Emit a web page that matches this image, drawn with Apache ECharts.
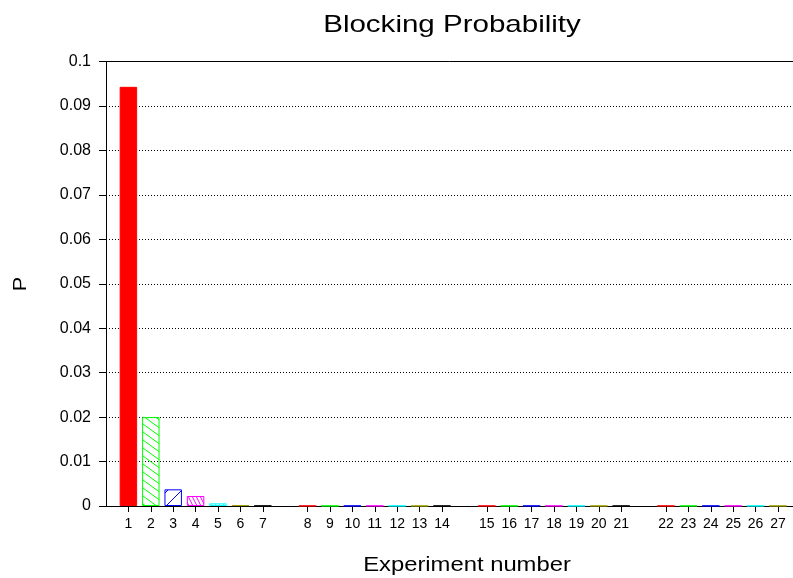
<!DOCTYPE html>
<html>
<head>
<meta charset="utf-8">
<script src="https://cdn.jsdelivr.net/npm/echarts@6/dist/echarts.min.js"></script>
<style>
  html, body { margin: 0; padding: 0; background: #fff; }
  #chart { width: 793px; height: 578px; }
</style>
</head>
<body>
<div id="chart"></div>
<script>
// Experiment labels and measured blocking probability per experiment
const experiments = ['1', '2', '3', '4', '5', '6', '7',
                     '8', '9', '10', '11', '12', '13', '14',
                     '15', '16', '17', '18', '19', '20', '21',
                     '22', '23', '24', '25', '26', '27'];
const blockingP = [0.0943, 0.0200, 0.00375, 0.00225, 0.0006, 0.0002, 0.00006,
                   0.00004, 0.00004, 0.00004, 0.00004, 0.00004, 0.00004, 0.00004,
                   0.00004, 0.00004, 0.00004, 0.00004, 0.00004, 0.00004, 0.00004,
                   0.00004, 0.00004, 0.00004, 0.00004, 0.00004, 0.00004];
// Experiments are plotted in groups of seven, with a blank slot between groups
const groupSize = 7;
const yMin = 0, yMax = 0.1, yStep = 0.01;

const FONT = 'Liberation Sans, Arial, Helvetica, sans-serif';
const palette = ['#ff0000', '#00ff00', '#0000ff', '#ff00ff', '#00ffff', '#a0a000', '#000000'];

// Hatch tile: diagonal lines with the given run (w) and rise (h)
function hatch(color, w, h, dir, cross) {
  const c = document.createElement('canvas');
  c.width = w; c.height = h;
  const ctx = c.getContext('2d');
  ctx.strokeStyle = color;
  ctx.lineWidth = 1;
  const dirs = cross ? ['back', 'fwd'] : [dir];
  dirs.forEach(d => {
    [-h, 0, h].forEach(o => {
      ctx.beginPath();
      if (d === 'back') { ctx.moveTo(-w, -h + o); ctx.lineTo(2 * w, 2 * h + o); }
      else { ctx.moveTo(-w, 2 * h + o); ctx.lineTo(2 * w, -h + o); }
      ctx.stroke();
    });
  });
  return { image: c, repeat: 'repeat' };
}

function fillFor(i) {
  const col = palette[i % palette.length];
  switch (i % 7) {
    case 0: return col;
    case 1: return hatch(col, 11, 8, 'back');
    case 2: return hatch(col, 14, 14, 'fwd');
    case 3: return hatch(col, 4, 8, 'back');
    case 4: return hatch(col, 4, 8, 'fwd');
    case 5: return hatch(col, 8, 8, 'back', true);
    default: return hatch(col, 6, 6, 'fwd', true);
  }
}

// Category slots: leading blank, groups separated by blanks, trailing blank
const categories = [''];
const barData = ['-'];
experiments.forEach((name, i) => {
  categories.push(name);
  barData.push({
    value: blockingP[i],
    itemStyle: { color: fillFor(i), borderColor: palette[i % palette.length], borderWidth: 1 }
  });
  if ((i + 1) % groupSize === 0) { categories.push(''); barData.push('-'); }
});
categories.push('');
barData.push('-');

const chart = echarts.init(document.getElementById('chart'), null, { renderer: 'canvas' });

const plotLeft = 106, plotTop = 61.5, plotBottom = 506;
const slot = 22.4;

chart.setOption({
  animation: false,
  backgroundColor: '#ffffff',
  grid: {
    left: plotLeft, top: plotTop,
    width: slot * (categories.length - 1),
    height: plotBottom - plotTop,
    containLabel: false,
    outerBoundsMode: 'none'
  },
  xAxis: [{
    type: 'category',
    data: categories,
    boundaryGap: false,
    axisLine: { lineStyle: { color: '#000', width: 1 } },
    axisTick: {
      show: true, length: 6,
      interval: (idx, val) => val !== '',
      lineStyle: { color: '#000' }
    },
    axisLabel: {
      interval: 0, margin: 11,
      color: '#000', fontSize: 14, fontFamily: FONT
    },
    splitLine: { show: false }
  }, {
    type: 'category',
    data: categories,
    boundaryGap: false,
    position: 'top',
    axisLine: { show: true, lineStyle: { color: '#000', width: 1 } },
    axisTick: { show: false },
    axisLabel: { show: false },
    splitLine: { show: false }
  }],
  yAxis: {
    type: 'value',
    min: yMin, max: yMax, interval: yStep,
    axisLine: { show: true, lineStyle: { color: '#000', width: 1 } },
    axisTick: { show: true, length: 7, lineStyle: { color: '#000' } },
    axisLabel: { margin: 15, color: '#000', fontSize: 16, fontFamily: FONT },
    splitLine: { show: true, lineStyle: { color: '#000', width: 1, type: [1, 2] } }
  },
  series: [{
    type: 'bar',
    xAxisIndex: 0,
    data: barData,
    barCategoryGap: '22%',
    z: 3
  }],
  graphic: [
    {
      type: 'text', x: 452, y: 25, scaleX: 1.23,
      style: { text: 'Blocking Probability', fontSize: 24, fontFamily: FONT,
               fill: '#000', align: 'center', verticalAlign: 'middle' }
    },
    {
      type: 'text', x: 467, y: 565, scaleX: 1.19,
      style: { text: 'Experiment number', fontSize: 20, fontFamily: FONT,
               fill: '#000', align: 'center', verticalAlign: 'middle' }
    },
    {
      type: 'text', x: 21, y: 284, rotation: Math.PI / 2, scaleX: 1.2,
      style: { text: 'P', fontSize: 18, fontFamily: FONT,
               fill: '#000', align: 'center', verticalAlign: 'middle' }
    }
  ]
});
</script>
</body>
</html>
